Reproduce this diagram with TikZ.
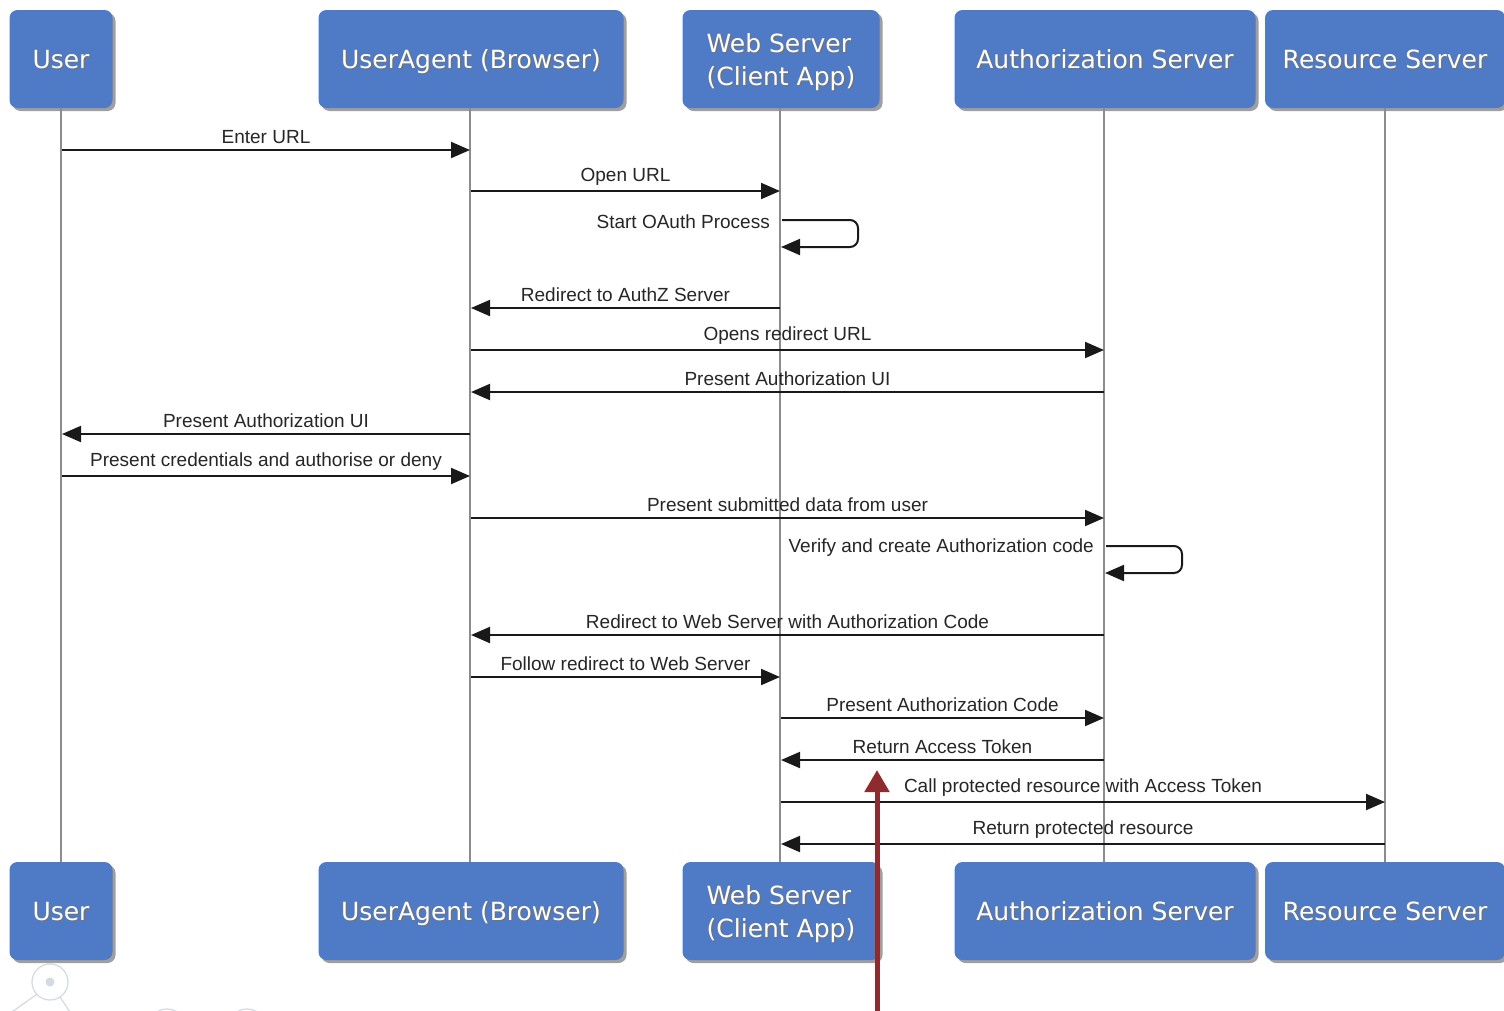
\documentclass[tikz,border=0pt]{standalone}
\usepackage{fontspec}
\setmainfont{DejaVu Sans}
\newfontfamily\msgfont{Liberation Sans}
\usetikzlibrary{arrows.meta,shadows,calc}
\definecolor{boxblue}{HTML}{4F7AC6}
\definecolor{lifegrey}{HTML}{8C8C8C}
\definecolor{markred}{HTML}{8E2B2E}
\definecolor{faint}{HTML}{D3DAE1}
\newcommand\shtxt[1]{\rlap{\kern1.4pt\raisebox{-1.4pt}{\color{black!55}#1}}#1}
\newcommand\twolines[2]{\raisebox{-17pt}{\begin{tabular}[b]{@{}l@{}}\shtxt{#1}\\\shtxt{#2}\end{tabular}}}
\begin{document}
\begin{tikzpicture}[x=1pt,y=-1pt,
  actor/.style={fill=boxblue, rounded corners=8pt, minimum height=98pt,
    text=white, font=\fontsize{25}{33}\selectfont, inner sep=0pt,
    text height=18pt, text depth=0pt,
    drop shadow={shadow xshift=3pt, shadow yshift=-3pt, opacity=0.5, fill=black!75}},
  lifeline/.style={draw=lifegrey, line width=2pt},
  msg/.style={draw=black!90, line width=2pt, -{Triangle[length=19pt,width=16pt]}},
  msglabel/.style={font=\msgfont\fontsize{19}{21}\selectfont, text=black!85, inner sep=0pt},
  marker/.style={draw=markred, line width=5pt, -{Triangle[length=22pt,width=24pt]}}
]
\useasboundingbox (0,0) rectangle (1504,1010);
\clip (0,0) rectangle (1504,1010);
\fill[white] (0,0) rectangle (1504,1010);

% faint decoration in the lower left corner
\begin{scope}[draw=faint, line width=1.2pt]
  \draw (50,982) circle[radius=18];
  \fill[faint] (50,982) circle[radius=4.5];
  \draw (37,994) -- (12,1012);
  \draw (60,997) -- (70,1012);
  \draw (167,1028) circle[radius=19];
  \draw (247,1028) circle[radius=19];
\end{scope}

% participants, top row
\node[actor, minimum width=103pt] (user) at (61,59) {\shtxt{User}};
\node[actor, minimum width=305pt] (ua) at (471,59) {\shtxt{UserAgent (Browser)}};
\node[actor, minimum width=197pt] (ws) at (781,59) {\twolines{Web Server}{(Client App)}};
\node[actor, minimum width=301pt] (as) at (1105,59) {\shtxt{Authorization Server}};
\node[actor, minimum width=240pt] (rs) at (1385,59) {\shtxt{Resource Server}};

% participants, bottom row
\node[actor, minimum width=103pt] (userB) at (61,911) {\shtxt{User}};
\node[actor, minimum width=305pt] (uaB) at (471,911) {\shtxt{UserAgent (Browser)}};
\node[actor, minimum width=197pt] (wsB) at (781,911) {\twolines{Web Server}{(Client App)}};
\node[actor, minimum width=301pt] (asB) at (1105,911) {\shtxt{Authorization Server}};
\node[actor, minimum width=240pt] (rsB) at (1385,911) {\shtxt{Resource Server}};

% lifelines
\coordinate (lU) at (61,0);
\coordinate (lA) at (470,0);
\coordinate (lW) at (780,0);
\coordinate (lZ) at (1104,0);
\coordinate (lR) at (1385,0);
\draw[lifeline] (lU |- user.south) -- (lU |- userB.north);
\draw[lifeline] (lA |- ua.south) -- (lA |- uaB.north);
\draw[lifeline] (lW |- ws.south) -- (lW |- wsB.north);
\draw[lifeline] (lZ |- as.south) -- (lZ |- asB.north);
\draw[lifeline] (lR |- rs.south) -- (lR |- rsB.north);

% messages
\newcommand\msgline[4]{%
  \draw[msg] ($(#1 |- 0,#3)+(1,0)$) -- ($(#2 |- 0,#3)$)
    node[msglabel, midway, above=5pt] {#4};}
\newcommand\msgback[4]{%
  \draw[msg] ($(#1 |- 0,#3)$) -- ($(#2 |- 0,#3)+(1,0)$)
    node[msglabel, midway, above=5pt] {#4};}

\msgline{lU}{lA}{150}{Enter URL}
\msgline{lA}{lW}{191}{Open URL}
\draw[msg, rounded corners=8pt] ($(lW |- 0,220)+(2,0)$) -- ($(lW |- 0,220)+(78,0)$)
  -- ($(lW |- 0,247)+(78,0)$) -- ($(lW |- 0,247)+(1,0)$);
\node[msglabel, anchor=east] (l3) at ($(lW |- 0,222)+(-10,0)$) {Start OAuth Process};
\msgback{lW}{lA}{308}{Redirect to AuthZ Server}
\msgline{lA}{lZ}{350}{Opens redirect URL}
\msgback{lZ}{lA}{392}{Present Authorization UI}
\msgback{lA}{lU}{434}{Present Authorization UI}
\msgline{lU}{lA}{476}{Present credentials and authorise or deny}
\msgline{lA}{lZ}{518}{Present submitted data from user}
\draw[msg, rounded corners=8pt] ($(lZ |- 0,546)+(2,0)$) -- ($(lZ |- 0,546)+(78,0)$)
  -- ($(lZ |- 0,573)+(78,0)$) -- ($(lZ |- 0,573)+(1,0)$);
\node[msglabel, anchor=east] (l10) at ($(lZ |- 0,548)+(-10,0)$) {Verify and create Authorization code};
\msgback{lZ}{lA}{635}{Redirect to Web Server with Authorization Code}
\msgline{lA}{lW}{677}{Follow redirect to Web Server}
\msgline{lW}{lZ}{718}{Present Authorization Code}
\msgback{lZ}{lW}{760}{Return Access Token}
\msgline{lW}{lR}{802}{Call protected resource with Access Token}
\msgback{lR}{lW}{844}{Return protected resource}

% highlight marker
\coordinate (markbase) at (877,1012);
\coordinate (marktip) at (877,770);
\draw[marker] (markbase) -- (marktip);
\end{tikzpicture}
\end{document}
